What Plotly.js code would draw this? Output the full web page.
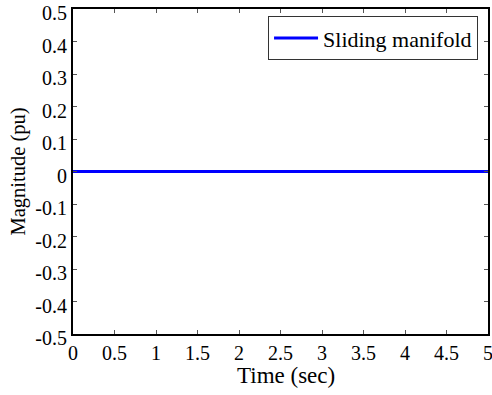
<!DOCTYPE html>
<html>
<head>
<meta charset="utf-8">
<script src="https://cdn.plot.ly/plotly-3.0.1.min.js"></script>
<style>html,body{margin:0;padding:0;background:#fff;}#chart{width:492px;height:395px;}</style>
</head>
<body>
<div id="chart"></div>
<script>
const timeSec = [0, 0.5, 1, 1.5, 2, 2.5, 3, 3.5, 4, 4.5, 5];
const slidingManifold = [0, 0, 0, 0, 0, 0, 0, 0, 0, 0, 0];
const xTickVals = [0, 0.5, 1, 1.5, 2, 2.5, 3, 3.5, 4, 4.5, 5];
const xTickText = ["0", "0.5", "1", "1.5", "2", "2.5", "3", "3.5", "4", "4.5", "5"];
const yTickVals = [-0.5, -0.4, -0.3, -0.2, -0.1, 0, 0.1, 0.2, 0.3, 0.4, 0.5];
const yTickText = ["-0.5", "-0.4", "-0.3", "-0.2", "-0.1", "0", "0.1", "0.2", "0.3", "0.4", "0.5"];
const xTitle = "Time (sec)";
const yTitle = "Magnitude (pu)";

const fam = "Liberation Serif, Times New Roman, serif";
const tickFont = {family: fam, size: 20, color: "#000"};

const trace = {
  x: timeSec, y: slidingManifold, type: "scatter", mode: "lines",
  name: "Sliding manifold", line: {color: "#0000ff", width: 3}
};

const axisCommon = {
  showgrid: false, zeroline: false, showline: true, mirror: "ticks",
  linecolor: "#000", linewidth: 2, ticks: "inside", ticklen: 4,
  tickcolor: "#555", tickwidth: 1, tickfont: tickFont, ticklabeloverflow: "allow"
};

const layout = {
  width: 492, height: 395,
  margin: {l: 73, r: 4, t: 9, b: 61},
  paper_bgcolor: "#fff", plot_bgcolor: "#fff",
  font: tickFont,
  showlegend: true,
  legend: {
    x: 0.976, y: 0.978, xanchor: "right", yanchor: "top",
    bgcolor: "#fff", bordercolor: "#333", borderwidth: 1,
    font: {family: fam, size: 22, color: "#000"}, itemwidth: 44
  },
  xaxis: Object.assign({}, axisCommon, {
    range: [0, 5], tickvals: xTickVals, ticktext: xTickText
  }),
  yaxis: Object.assign({}, axisCommon, {
    range: [-0.5, 0.5], tickvals: yTickVals, ticktext: yTickText, ticklabelshift: 4,
    title: {text: yTitle, font: {family: fam, size: 20.5, color: "#000"}, standoff: 4}
  }),
  annotations: [{
    text: xTitle, xref: "paper", yref: "paper", x: 0.513, y: -0.128,
    xanchor: "center", yanchor: "middle", showarrow: false,
    font: {family: fam, size: 23, color: "#000"}
  }]
};

Plotly.newPlot("chart", [trace], layout, {displayModeBar: false, staticPlot: true});
</script>
</body>
</html>
